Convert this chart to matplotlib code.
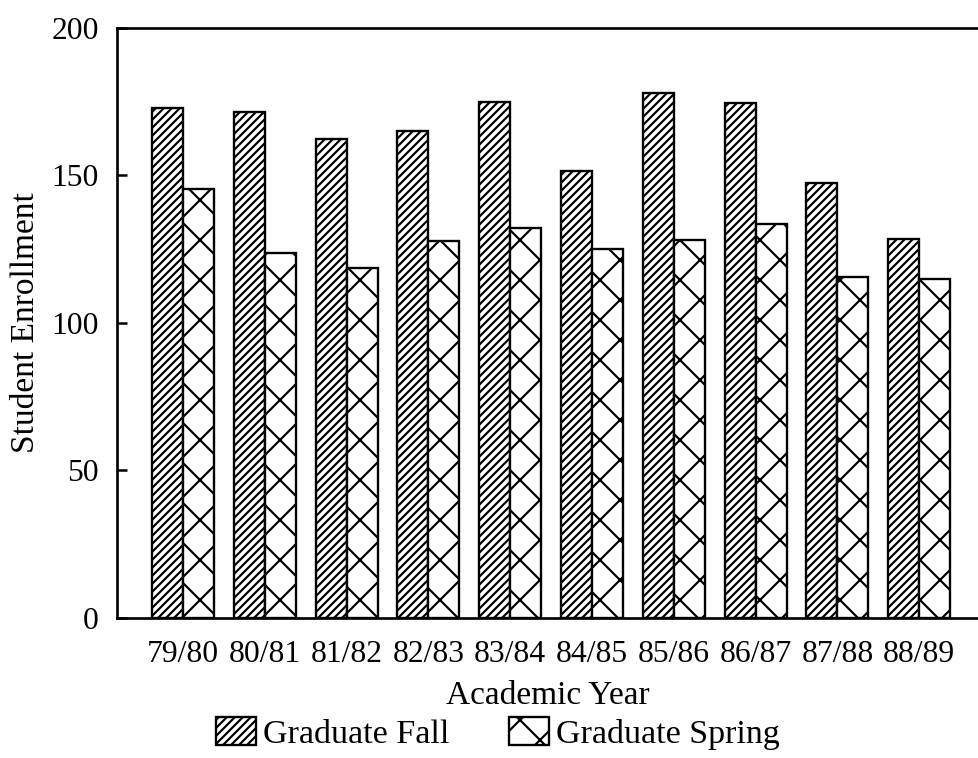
import matplotlib
matplotlib.use("Agg")
import matplotlib.pyplot as plt
import numpy as np

years = ["79/80", "80/81", "81/82", "82/83", "83/84",
         "84/85", "85/86", "86/87", "87/88", "88/89"]
grad_fall = [173, 171.5, 162.5, 165, 175, 151.5, 178, 174.5, 147.5, 128.5]
grad_spring = [145.5, 123.7, 118.6, 127.8, 132.2, 125.1, 128.1, 133.6, 115.5, 115]

plt.rcParams["font.family"] = ["Liberation Serif", "DejaVu Serif"]
plt.rcParams["hatch.linewidth"] = 0.65

DPI = 240
fig = plt.figure(figsize=(978 / DPI, 758 / DPI), dpi=DPI)
ax = fig.add_axes([0.1196, 0.1847, 0.8804, 0.7784])

x = np.arange(len(years))
w = 0.379
ax.bar(x - w / 2, grad_fall, w, color="white", edgecolor="black",
       linewidth=0.7, hatch="/" * 10, label="Graduate Fall")
ax.bar(x + w / 2, grad_spring, w, color="white", edgecolor="black",
       linewidth=0.7, hatch="xx", label="Graduate Spring")

ax.set_xlim(-0.807, 9.719)
ax.set_ylim(0, 200)
ax.set_yticks([0, 50, 100, 150, 200])
ax.set_xticks(x)
ax.set_xticklabels(years)
ax.tick_params(axis="y", direction="in", length=3, width=0.75,
               labelsize=9.5, pad=5.5)
ax.tick_params(axis="x", length=0, labelsize=9.5, pad=6.5)

for side in ("top", "left", "bottom"):
    ax.spines[side].set_linewidth(0.8)
ax.spines["right"].set_visible(False)

ax.set_xlabel("Academic Year", fontsize=10, labelpad=3.5)
ax.set_ylabel("Student Enrollment", fontsize=10, labelpad=3)

fig.legend(loc="center", bbox_to_anchor=(498 / 978, 0.032), ncol=2,
           frameon=False, fontsize=10.2, handlelength=1.18, handleheight=0.88,
           handletextpad=0.2, columnspacing=1.75, borderpad=0)

fig.savefig("out.png", dpi=DPI)
